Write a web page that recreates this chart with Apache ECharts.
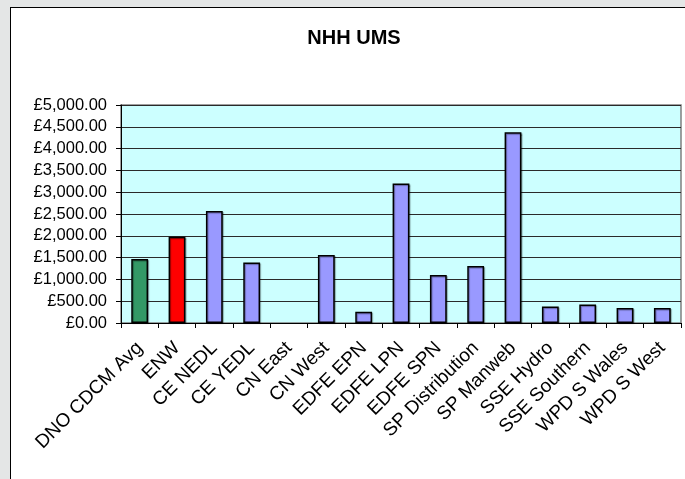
<!DOCTYPE html>
<html>
<head>
<meta charset="utf-8">
<script src="https://cdn.jsdelivr.net/npm/echarts@6/dist/echarts.min.js"></script>
<style>
  html, body { margin: 0; padding: 0; background: #e4e6e6; width: 685px; height: 479px; overflow: hidden; }
  #frame { position: absolute; left: 10px; top: 7px; width: 700px; height: 500px; background: #ffffff; border-left: 1px solid #000; border-top: 1px solid #000; }
  #chart { position: absolute; left: 0; top: 0; width: 685px; height: 479px; }
</style>
</head>
<body>
<div id="frame"></div>
<div id="chart"></div>
<script>
const titleText = 'NHH UMS';
const categories = ['DNO CDCM Avg', 'ENW', 'CE NEDL', 'CE YEDL', 'CN East', 'CN West', 'EDFE EPN', 'EDFE LPN', 'EDFE SPN', 'SP Distribution', 'SP Manweb', 'SSE Hydro', 'SSE Southern', 'WPD S Wales', 'WPD S West'];
const values = [1470, 1980, 2570, 1390, 0, 1560, 260, 3200, 1100, 1305, 4375, 380, 425, 345, 345];
const yMin = 0, yMax = 5000, yStep = 500;

const fontFam = '"Liberation Sans", Arial, sans-serif';
function money(v) {
  const s = Math.round(v).toString().replace(/\B(?=(\d{3})+(?!\d))/g, ',');
  return '£' + s + '.00';
}
function barColor(i) {
  if (i === 0) return '#339966';
  if (i === 1) return '#ff0000';
  return '#9999ff';
}

const chart = echarts.init(document.getElementById('chart'), null, { renderer: 'canvas' });
chart.setOption({
  backgroundColor: 'transparent',
  animation: false,
  title: {
    text: titleText,
    left: 349, top: 23, textAlign: 'center',
    textStyle: { fontFamily: fontFam, fontSize: 20, fontWeight: 'bold', color: '#000' }
  },
  grid: {
    left: 121, right: 4, top: 105, bottom: 156,
    show: true, backgroundColor: '#ccffff', borderColor: '#808080', borderWidth: 1.5,
    containLabel: false
  },
  xAxis: {
    type: 'category',
    data: categories,
    boundaryGap: true,
    axisLine: { show: true, lineStyle: { color: '#000', width: 1 } },
    axisTick: { show: true, alignWithLabel: false, length: 5, lineStyle: { color: '#000' } },
    axisLabel: {
      interval: 0, rotate: 45, margin: 22,
      fontFamily: fontFam, fontSize: 19, color: '#000'
    },
    splitLine: { show: false }
  },
  yAxis: {
    type: 'value',
    min: yMin, max: yMax, interval: yStep,
    axisLine: { show: true, lineStyle: { color: '#000', width: 1 } },
    axisTick: { show: true, length: 5, lineStyle: { color: '#000' } },
    axisLabel: {
      margin: 14, fontFamily: fontFam, fontSize: 16.5, color: '#000',
      formatter: money
    },
    splitLine: { show: true, lineStyle: { color: '#2a2a2a', width: 1 } }
  },
  series: [{
    type: 'bar',
    data: values.map((v, i) => ({
      value: v,
      itemStyle: {
        color: barColor(i), borderColor: '#000', borderWidth: v === 0 ? 0 : 1.5,
        shadowColor: 'rgba(0,0,0,0.35)', shadowOffsetX: 1, shadowOffsetY: 1, shadowBlur: v === 0 ? 0 : 1
      }
    })),
    barWidth: '45%'
  }]
});
</script>
</body>
</html>
